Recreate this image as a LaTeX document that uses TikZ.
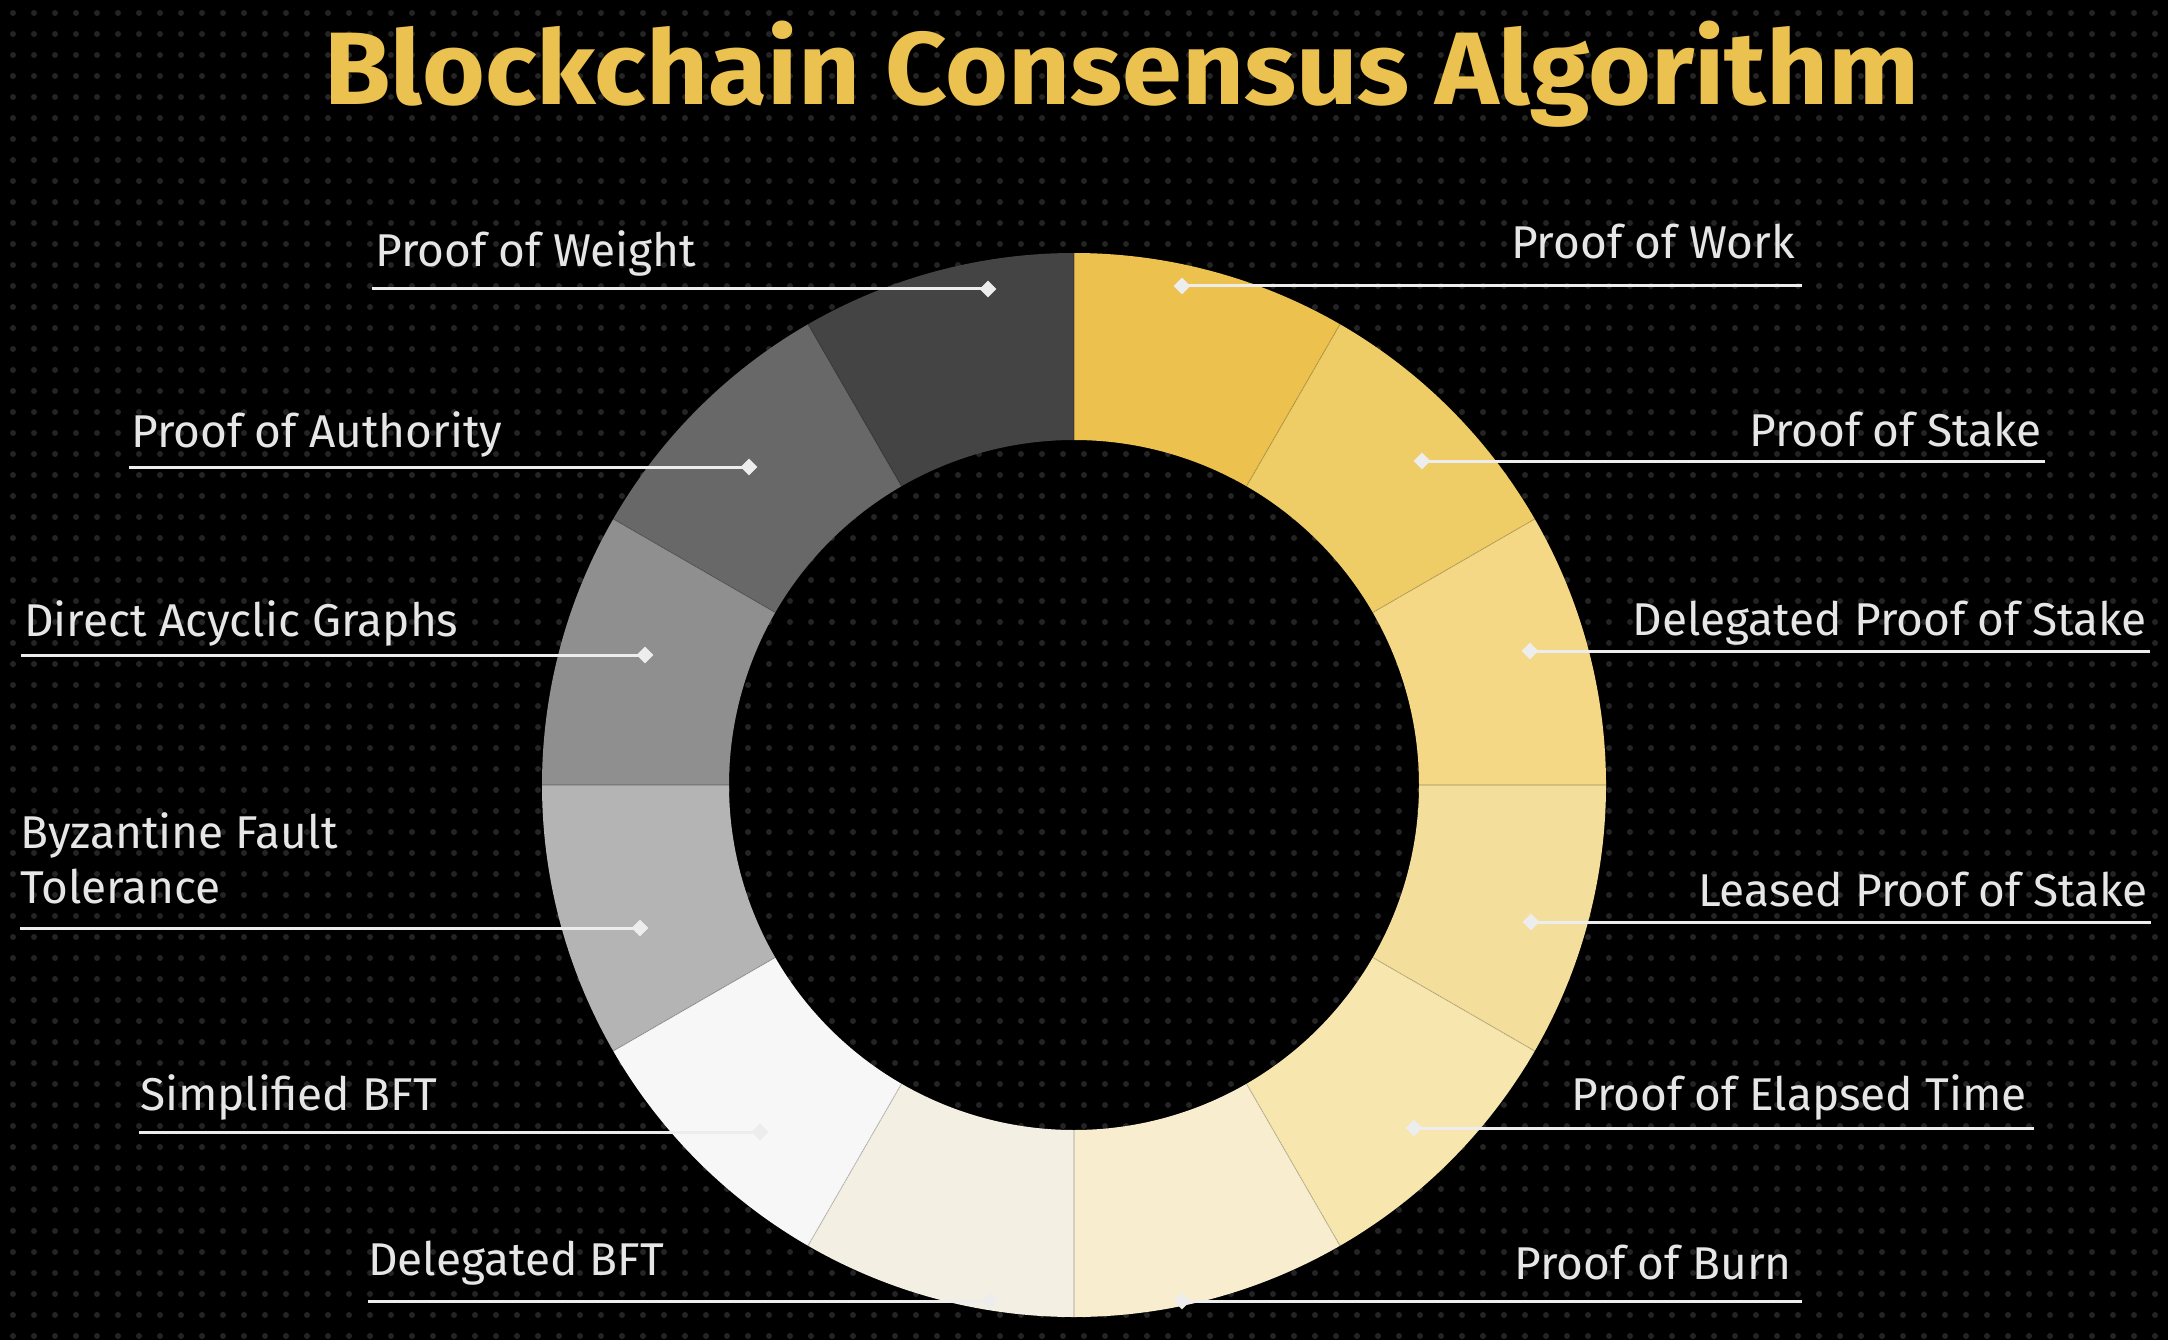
\documentclass[tikz,border=0pt]{standalone}
\usepackage{fontspec}
\setmainfont{Fira Sans}
\usetikzlibrary{shapes.geometric}
\definecolor{bgdot}{HTML}{242424}
\definecolor{titlec}{HTML}{EBC14F}
\definecolor{labelc}{HTML}{E6E6E6}
\definecolor{leadc}{HTML}{EDEDED}
\definecolor{sA}{HTML}{EDC14E}
\definecolor{sB}{HTML}{EFCD66}
\definecolor{sC}{HTML}{F5D885}
\definecolor{sD}{HTML}{F4DE9B}
\definecolor{sE}{HTML}{F7E6AE}
\definecolor{sF}{HTML}{F8EDCE}
\definecolor{sG}{HTML}{F3EFE2}
\definecolor{sH}{HTML}{F7F7F7}
\definecolor{sI}{HTML}{B4B4B4}
\definecolor{sJ}{HTML}{8F8F8F}
\definecolor{sK}{HTML}{686868}
\definecolor{sL}{HTML}{444444}
\tikzset{
  lbl/.style={text=labelc, font=\fontsize{46}{55}\selectfont, inner sep=0pt, align=left},
  leader/.style={draw=leadc, line width=3pt},
  tipdia/.style={shape=diamond, fill=leadc, inner sep=0pt, minimum width=17pt, minimum height=17pt},
  divider/.style={draw=black, draw opacity=0.13, line width=1.2pt}
}
\begin{document}
\begin{tikzpicture}[x=1pt,y=1pt]
\useasboundingbox (0,0) rectangle (2168,-1340);
\fill[black] (0,0) rectangle (2168,-1340);
% background dot grid
\foreach \i in {0,...,102}{
  \foreach \j in {0,...,63}{
    \fill[bgdot] ({13+21*\i},{-13-21*\j}) circle (3);
  }
}
% title
\node[text=titlec, font=\fontsize{103}{110}\selectfont\bfseries, inner sep=0pt, anchor=base west, xscale=1.046] (title) at (324,-105) {Blockchain Consensus Algorithm};
% ring
\begin{scope}[shift={(1074,-785)}]
  \foreach \c [count=\k from 0] in {sA,sB,sC,sD,sE,sF,sG,sH,sI,sJ,sK,sL}{
    \pgfmathsetmacro{\a}{90-30*\k}
    \pgfmathsetmacro{\b}{60-30*\k}
    \fill[\c] (\a:532) arc[start angle=\a, end angle=\b, radius=532] -- (\b:345) arc[start angle=\b, end angle=\a, radius=345] -- cycle;
  }
  \foreach \k in {0,...,11}{
    \draw[divider] ({90-30*\k}:345) -- ({90-30*\k}:532);
  }
\end{scope}
% left labels
\coordinate (s1) at (372,-289);
\node[tipdia] (m1) at (988,-289) {};
\draw[leader] (s1) -- (m1.center);
\node[lbl, anchor=base west] (t1) at (375,-267) {Proof of Weight};

\coordinate (s2) at (129,-467);
\node[tipdia] (m2) at (749,-467) {};
\draw[leader] (s2) -- (m2.center);
\node[lbl, anchor=base west] (t2) at (131,-447) {Proof of Authority};

\coordinate (s3) at (21,-655);
\node[tipdia] (m3) at (645,-655) {};
\draw[leader] (s3) -- (m3.center);
\node[lbl, anchor=base west] (t3) at (24,-636) {Direct Acyclic Graphs};

\coordinate (s4) at (20,-928);
\node[tipdia] (m4) at (640,-928) {};
\draw[leader] (s4) -- (m4.center);
\node[lbl, anchor=base west] (t4a) at (20,-848) {Byzantine Fault};
\node[lbl, anchor=base west] (t4b) at (20,-903) {Tolerance};

\coordinate (s5) at (139,-1132);
\node[tipdia] (m5) at (760,-1132) {};
\draw[leader] (s5) -- (m5.center);
\node[lbl, anchor=base west] (t5) at (140,-1110) {Simplified BFT};

\coordinate (s6) at (368,-1301);
\node[tipdia] (m6) at (990,-1301) {};
\draw[leader] (s6) -- (m6.center);
\node[lbl, anchor=base west] (t6) at (368,-1275) {Delegated BFT};

% right labels
\coordinate (e7) at (1802,-286);
\node[tipdia] (m7) at (1182,-286) {};
\draw[leader] (e7) -- (m7.center);
\node[lbl, anchor=base east] (t7) at (1795,-259) {Proof of Work};

\coordinate (e8) at (2045,-461);
\node[tipdia] (m8) at (1422,-461) {};
\draw[leader] (e8) -- (m8.center);
\node[lbl, anchor=base east] (t8) at (2042,-446) {Proof of Stake};

\coordinate (e9) at (2150,-651);
\node[tipdia] (m9) at (1530,-651) {};
\draw[leader] (e9) -- (m9.center);
\node[lbl, anchor=base east] (t9) at (2147,-635) {Delegated Proof of Stake};

\coordinate (e10) at (2151,-922);
\node[tipdia] (m10) at (1531,-922) {};
\draw[leader] (e10) -- (m10.center);
\node[lbl, anchor=base east] (t10) at (2148,-906) {Leased Proof of Stake};

\coordinate (e11) at (2034,-1128);
\node[tipdia] (m11) at (1414,-1128) {};
\draw[leader] (e11) -- (m11.center);
\node[lbl, anchor=base east] (t11) at (2027,-1110) {Proof of Elapsed Time};

\coordinate (e12) at (1802,-1301);
\node[tipdia] (m12) at (1182,-1301) {};
\draw[leader] (e12) -- (m12.center);
\node[lbl, anchor=base east] (t12) at (1792,-1279) {Proof of Burn};
\end{tikzpicture}
\end{document}
